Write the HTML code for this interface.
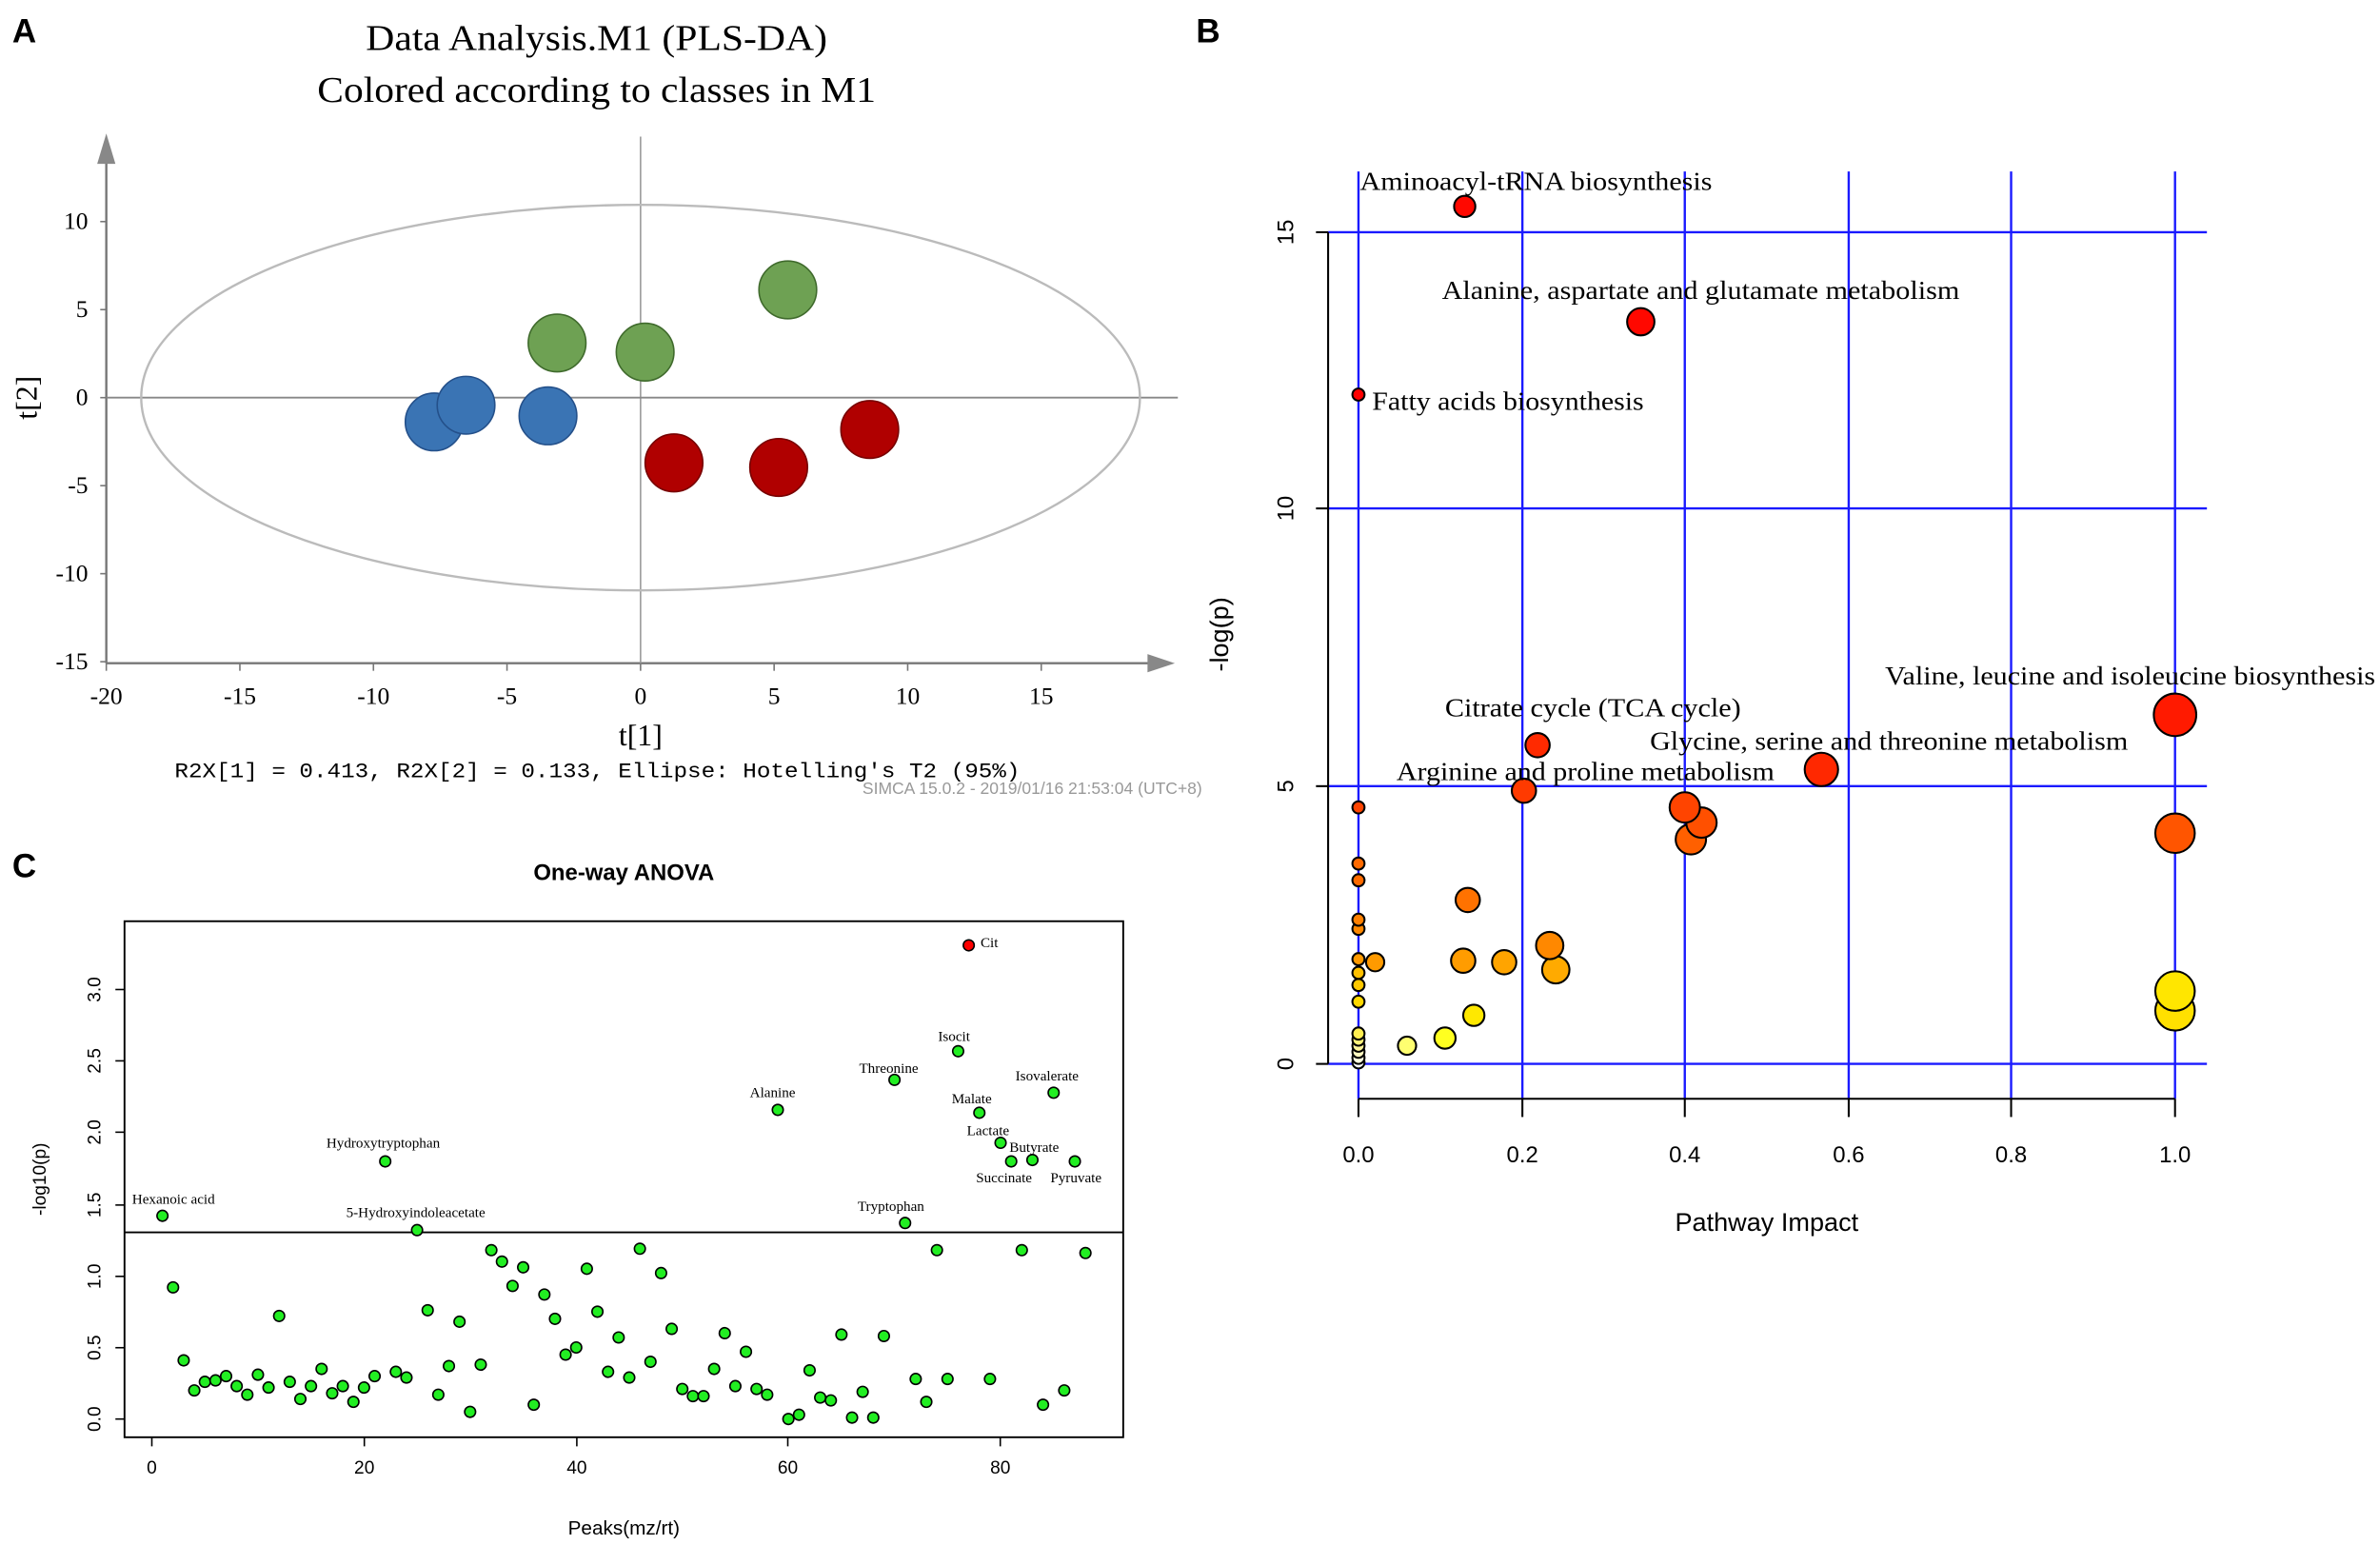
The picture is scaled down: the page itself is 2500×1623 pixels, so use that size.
<!DOCTYPE html>
<html><head><meta charset="utf-8"><style>html,body{margin:0;padding:0;background:#fff}svg{display:block}</style></head>
<body>
<svg id="s" xmlns="http://www.w3.org/2000/svg" width="2500" height="1623" viewBox="0 0 1568 1018">
<rect width="1568" height="1018" fill="#fff"/>
<g font-family="Liberation Sans, sans-serif" font-weight="bold" font-size="22" fill="#000">
<text x="8" y="28">A</text><text x="788" y="28">B</text><text x="8" y="578">C</text>
</g>
<g font-family="Liberation Serif, serif" fill="#000">
<text x="241" y="33" font-size="24" textLength="304" lengthAdjust="spacingAndGlyphs">Data Analysis.M1 (PLS-DA)</text>
<text x="209" y="67" font-size="24" textLength="368" lengthAdjust="spacingAndGlyphs">Colored according to classes in M1</text>
</g>
<g stroke="#777" stroke-width="1.5" fill="none">
<line x1="70" y1="100" x2="70" y2="437"/>
<line x1="70" y1="437" x2="760" y2="437"/>
<line x1="422" y1="90" x2="422" y2="437" stroke="#999" stroke-width="1"/>
<line x1="70" y1="262" x2="776" y2="262" stroke="#888" stroke-width="1.2"/>
</g>
<polygon points="64,108 76,108 70,88" fill="#888"/>
<polygon points="756,431 756,443 774,437" fill="#888"/>
<ellipse cx="422" cy="262" rx="329" ry="127" fill="none" stroke="#bbb" stroke-width="1.5"/>
<g stroke="#777" stroke-width="1">
<line x1="66" y1="146" x2="70" y2="146"/><line x1="66" y1="204" x2="70" y2="204"/><line x1="66" y1="262" x2="70" y2="262"/><line x1="66" y1="320" x2="70" y2="320"/><line x1="66" y1="378" x2="70" y2="378"/><line x1="66" y1="436" x2="70" y2="436"/>
<line x1="70" y1="437" x2="70" y2="442"/><line x1="158" y1="437" x2="158" y2="442"/><line x1="246" y1="437" x2="246" y2="442"/><line x1="334" y1="437" x2="334" y2="442"/><line x1="422" y1="437" x2="422" y2="442"/><line x1="510" y1="437" x2="510" y2="442"/><line x1="598" y1="437" x2="598" y2="442"/><line x1="686" y1="437" x2="686" y2="442"/>
</g>
<g font-family="Liberation Serif, serif" font-size="16" fill="#000" text-anchor="end">
<text x="58" y="151">10</text><text x="58" y="209">5</text><text x="58" y="267">0</text><text x="58" y="325">-5</text><text x="58" y="383">-10</text><text x="58" y="441">-15</text>
</g>
<g font-family="Liberation Serif, serif" font-size="16" fill="#000" text-anchor="middle">
<text x="70" y="464">-20</text><text x="158" y="464">-15</text><text x="246" y="464">-10</text><text x="334" y="464">-5</text><text x="422" y="464">0</text><text x="510" y="464">5</text><text x="598" y="464">10</text><text x="686" y="464">15</text>
</g>
<text x="422" y="491" font-family="Liberation Serif, serif" font-size="20" text-anchor="middle">t[1]</text>
<text transform="translate(24,262) rotate(-90)" font-family="Liberation Serif, serif" font-size="20" text-anchor="middle">t[2]</text>
<text x="115" y="512" font-family="Liberation Mono, monospace" font-size="14" textLength="557" lengthAdjust="spacingAndGlyphs">R2X[1] = 0.413, R2X[2] = 0.133, Ellipse: Hotelling's T2 (95%)</text>
<text x="792" y="523" font-family="Liberation Sans, sans-serif" font-size="11" fill="#999" text-anchor="end">SIMCA 15.0.2 - 2019/01/16 21:53:04 (UTC+8)</text>
<g stroke-width="1">
<circle cx="286" cy="278" r="19" fill="#3a74b4" stroke="#24508a"/>
<circle cx="307" cy="267" r="19" fill="#3a74b4" stroke="#24508a"/>
<circle cx="361" cy="274" r="19" fill="#3a74b4" stroke="#24508a"/>
<circle cx="367" cy="226" r="19" fill="#6ea153" stroke="#3f6a2c"/>
<circle cx="425" cy="232" r="19" fill="#6ea153" stroke="#3f6a2c"/>
<circle cx="519" cy="191" r="19" fill="#6ea153" stroke="#3f6a2c"/>
<circle cx="444" cy="305" r="19" fill="#b00000" stroke="#700"/>
<circle cx="513" cy="308" r="19" fill="#b00000" stroke="#700"/>
<circle cx="573" cy="283" r="19" fill="#b00000" stroke="#700"/>
</g>
<g stroke="#1a1aff" stroke-width="1.5">
<line x1="895" y1="113" x2="895" y2="724"/><line x1="1003" y1="113" x2="1003" y2="724"/><line x1="1110" y1="113" x2="1110" y2="724"/><line x1="1218" y1="113" x2="1218" y2="724"/><line x1="1325" y1="113" x2="1325" y2="724"/><line x1="1433" y1="113" x2="1433" y2="724"/>
<line x1="875" y1="153" x2="1454" y2="153"/><line x1="875" y1="335" x2="1454" y2="335"/><line x1="875" y1="518" x2="1454" y2="518"/><line x1="875" y1="701" x2="1454" y2="701"/>
</g>
<g stroke="#000" stroke-width="1.3">
<line x1="875" y1="153" x2="875" y2="701"/>
<line x1="867" y1="153" x2="875" y2="153"/><line x1="867" y1="335" x2="875" y2="335"/><line x1="867" y1="518" x2="875" y2="518"/><line x1="867" y1="701" x2="875" y2="701"/>
<line x1="895" y1="724" x2="1433" y2="724"/>
<line x1="895" y1="724" x2="895" y2="736"/><line x1="1003" y1="724" x2="1003" y2="736"/><line x1="1110" y1="724" x2="1110" y2="736"/><line x1="1218" y1="724" x2="1218" y2="736"/><line x1="1325" y1="724" x2="1325" y2="736"/><line x1="1433" y1="724" x2="1433" y2="736"/>
</g>
<g font-family="Liberation Sans, sans-serif" font-size="15" fill="#000" text-anchor="middle">
<text transform="translate(852,153) rotate(-90)">15</text><text transform="translate(852,335) rotate(-90)">10</text><text transform="translate(852,518) rotate(-90)">5</text><text transform="translate(852,701) rotate(-90)">0</text>
<text x="895" y="766">0.0</text><text x="1003" y="766">0.2</text><text x="1110" y="766">0.4</text><text x="1218" y="766">0.6</text><text x="1325" y="766">0.8</text><text x="1433" y="766">1.0</text>
<text x="1164" y="811" font-size="17">Pathway Impact</text>
<text transform="translate(809,418) rotate(-90)" font-size="17">-log(p)</text>
</g>
<g id="bub" stroke="#000" stroke-width="1.3"></g>
<g font-family="Liberation Serif, serif" font-size="17.5" fill="#000" lengthAdjust="spacingAndGlyphs">
<text x="896" y="125" textLength="232" lengthAdjust="spacingAndGlyphs">Aminoacyl-tRNA  biosynthesis</text>
<text x="950" y="197" textLength="341" lengthAdjust="spacingAndGlyphs">Alanine,  aspartate and glutamate metabolism</text>
<text x="904" y="270" textLength="179" lengthAdjust="spacingAndGlyphs">Fatty acids biosynthesis</text>
<text x="1242" y="451" textLength="323" lengthAdjust="spacingAndGlyphs">Valine, leucine and isoleucine biosynthesis</text>
<text x="952" y="472" textLength="195" lengthAdjust="spacingAndGlyphs">Citrate cycle (TCA cycle)</text>
<text x="1087" y="494" textLength="315" lengthAdjust="spacingAndGlyphs">Glycine,  serine and threonine metabolism</text>
<text x="920" y="514" textLength="249" lengthAdjust="spacingAndGlyphs">Arginine and proline metabolism</text>
</g>
<text x="411" y="580" font-family="Liberation Sans, sans-serif" font-weight="bold" font-size="15" text-anchor="middle">One-way ANOVA</text>
<rect x="82" y="607" width="658" height="340" fill="none" stroke="#000" stroke-width="1.2"/>
<line x1="82" y1="812" x2="740" y2="812" stroke="#000" stroke-width="1.2"/>
<g stroke="#000" stroke-width="1">
<line x1="76" y1="935" x2="82" y2="935"/><line x1="76" y1="888" x2="82" y2="888"/><line x1="76" y1="841" x2="82" y2="841"/><line x1="76" y1="794" x2="82" y2="794"/><line x1="76" y1="746" x2="82" y2="746"/><line x1="76" y1="699" x2="82" y2="699"/><line x1="76" y1="652" x2="82" y2="652"/>
<line x1="100" y1="947" x2="100" y2="953"/><line x1="240" y1="947" x2="240" y2="953"/><line x1="380" y1="947" x2="380" y2="953"/><line x1="519" y1="947" x2="519" y2="953"/><line x1="659" y1="947" x2="659" y2="953"/>
</g>
<g font-family="Liberation Sans, sans-serif" font-size="12" fill="#000" text-anchor="middle">
<text transform="translate(66,935) rotate(-90)">0.0</text><text transform="translate(66,888) rotate(-90)">0.5</text><text transform="translate(66,841) rotate(-90)">1.0</text><text transform="translate(66,794) rotate(-90)">1.5</text><text transform="translate(66,746) rotate(-90)">2.0</text><text transform="translate(66,699) rotate(-90)">2.5</text><text transform="translate(66,652) rotate(-90)">3.0</text>
<text x="100" y="971">0</text><text x="240" y="971">20</text><text x="380" y="971">40</text><text x="519" y="971">60</text><text x="659" y="971">80</text>
<text x="411" y="1011" font-size="13">Peaks(mz/rt)</text>
<text transform="translate(30,777) rotate(-90)" font-size="12">-log10(p)</text>
</g>
<g id="dots" stroke="#000" stroke-width="1"></g>
<g font-family="Liberation Serif, serif" font-size="9.5" fill="#000">
<text x="87" y="793">Hexanoic acid</text>
<text x="215" y="756">Hydroxytryptophan</text>
<text x="228" y="802">5-Hydroxyindoleacetate</text>
<text x="494" y="723">Alanine</text>
<text x="566" y="707">Threonine</text>
<text x="565" y="798">Tryptophan</text>
<text x="618" y="686">Isocit</text>
<text x="646" y="624">Cit</text>
<text x="627" y="727">Malate</text>
<text x="669" y="712">Isovalerate</text>
<text x="637" y="748">Lactate</text>
<text x="665" y="759">Butyrate</text>
<text x="643" y="779">Succinate</text>
<text x="692" y="779">Pyruvate</text>
</g>
<script>
(function(){
var NS="http://www.w3.org/2000/svg";
var b=document.getElementById("bub");
var B=[[895,700,4,"#ffffff"],[895,697,4,"#fffde0"],[895,693,4,"#fff8c0"],[895,689,4,"#fff59a"],[895,685,4,"#fff27a"],[895,681,4,"#ffee50"],[927,689,6,"#ffff70"],[952,684,7,"#ffff20"],[971,669,7,"#ffe800"],[895,660,4,"#ffd800"],[895,649,4,"#ffc800"],[895,641,4,"#ffc000"],[895,632,4,"#ff9a00"],[906,634,6,"#ff9a00"],[964,633,8,"#ff9c00"],[991,634,8,"#ffa400"],[1025,639,9,"#ffaa00"],[1021,623,9,"#ff8800"],[895,612,4,"#ff8800"],[895,606,4,"#ff8000"],[967,593,8,"#ff7200"],[895,580,4,"#ff6a00"],[895,569,4,"#ff6a00"],[895,532,4,"#ff4400"],[1433,666,13,"#ffe000"],[1433,653,13,"#ffe600"],[1433,549,13,"#ff5500"],[1114,553,10,"#ff6000"],[1121,542,10,"#ff5000"],[1110,532,10,"#ff4400"],[1004,521,8,"#ff3a00"],[1013,491,8,"#ff2a00"],[1200,507,11,"#ff2800"],[1433,471,14,"#ff1a00"],[1081,212,9,"#ff0800"],[965,136,7,"#ff0800"],[895,260,4,"#ff0000"]];
B.forEach(function(d){var c=document.createElementNS(NS,"circle");c.setAttribute("cx",d[0]);c.setAttribute("cy",d[1]);c.setAttribute("r",d[2]);c.setAttribute("fill",d[3]);b.appendChild(c);});
var v=[1.42,0.92,0.41,0.2,0.26,0.27,0.3,0.23,0.17,0.31,0.22,0.72,0.26,0.14,0.23,0.35,0.18,0.23,0.12,0.22,0.3,1.8,0.33,0.29,1.32,0.76,0.17,0.37,0.68,0.05,0.38,1.18,1.1,0.93,1.06,0.1,0.87,0.7,0.45,0.5,1.05,0.75,0.33,0.57,0.29,1.19,0.4,1.02,0.63,0.21,0.16,0.16,0.35,0.6,0.23,0.47,0.21,0.17,2.16,0.0,0.03,0.34,0.15,0.13,0.59,0.01,0.19,0.01,0.58,2.37,1.37,0.28,0.12,1.18,0.28,2.57,3.31,2.14,0.28,1.93,1.8,1.18,1.81,0.1,2.28,0.2,1.8,1.16];
var g=document.getElementById("dots");
v.forEach(function(y,i){var x=i+1;var c=document.createElementNS(NS,"circle");c.setAttribute("cx",100+x*6.99);c.setAttribute("cy",935-y*94.3);c.setAttribute("r",3.6);c.setAttribute("fill",x==77?"#ff0000":"#22ee22");g.appendChild(c);});
})();
</script>
</svg>
</body></html>
